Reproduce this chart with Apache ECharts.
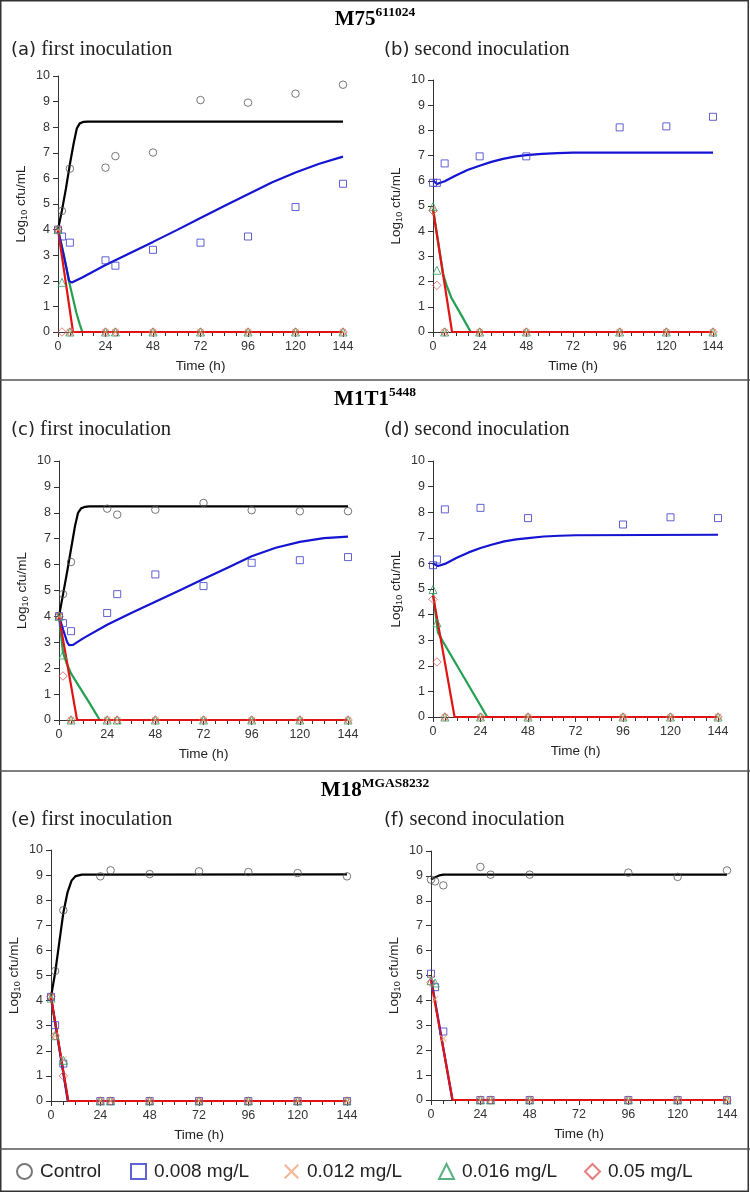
<!DOCTYPE html>
<html><head><meta charset="utf-8">
<script src="https://cdn.jsdelivr.net/npm/echarts@6/dist/echarts.min.js"></script>
<style>html,body{margin:0;padding:0;background:#fff}#c{width:750px;height:1192px}</style>
</head><body><div id="c"></div>
<script>
// ---------- time points ----------
var tA = [0, 2, 6, 24, 29, 48, 72, 96, 120, 144];
var tB = [0, 2, 6, 24, 48, 96, 120, 144];
var tF = [0, 2, 6, 24, 29, 48, 96, 120, 144];
var xTicks = [0, 24, 48, 72, 96, 120, 144];
var yTicks = [0, 1, 2, 3, 4, 5, 6, 7, 8, 9, 10];

// ---------- panel (a) ----------
var ctrlA  = [4.0, 4.73, 6.38, 6.42, 6.87, 7.01, 9.06, 8.96, 9.31, 9.66];
var sq008A = [4.0, 3.73, 3.49, 2.80, 2.59, 3.21, 3.49, 3.73, 4.88, 5.79];
var x012A  = [4.0, null, 0, 0, 0, 0, 0, 0, 0, 0];
var tri016A= [4.0, 1.94, 0, 0, 0, 0, 0, 0, 0, 0];
var dia05A = [4.0, 0, 0, 0, 0, 0, 0, 0, 0, 0];
var fitCtrlA = [[0,4.0],[2,4.75],[4,5.6],[6,6.55],[8,7.4],[9.5,7.95],[11,8.15],[13,8.21],[15,8.22],[144,8.22]];
var fitBlueA = [[0,4.0],[2,3.3],[4,2.6],[5.6,2.0],[7,1.93],[8,1.95],[12,2.12],[24,2.62],[36,3.07],[48,3.52],[60,3.98],[72,4.45],[84,4.92],[96,5.38],[108,5.84],[120,6.23],[132,6.57],[144,6.85]];
var fitRedA  = [[0,4.0],[7.6,0],[144,0]];
var fitGreenA= [[0,4.0],[3,3.0],[5.5,2.0],[7,1.5],[9.3,0.74],[11,0.3],[12.3,0],[144,0]];

// ---------- panel (b) ----------
var sq008B = [5.92, 5.92, 6.69, 6.97, 6.97, 8.12, 8.16, 8.54];
var x012B  = [null, null, 0, 0, 0, 0, 0, 0];
var tri016B= [4.97, 2.45, 0, 0, 0, 0, 0, 0];
var dia05B = [4.81, 1.85, 0, 0, 0, 0, 0, 0];
var fitBlueB = [[0,6.02],[2,5.87],[6,5.98],[12,6.22],[18,6.44],[24,6.6],[30,6.75],[36,6.87],[42,6.96],[48,7.02],[56,7.07],[64,7.1],[72,7.12],[144,7.12]];
var fitRedB  = [[0,4.85],[9.8,0],[144,0]];
var fitGreenB= [[0,4.9],[5.2,2.3],[7,1.85],[9.5,1.35],[14.5,0.68],[19.4,0],[144,0]];

// ---------- panel (c) ----------
var ctrlC  = [4.01, 4.86, 6.1, 8.16, 7.93, 8.12, 8.38, 8.10, 8.06, 8.06];
var sq008C = [4.01, 3.74, 3.43, 4.13, 4.86, 5.62, 5.17, 6.07, 6.17, 6.29];
var x012C  = [4.0, null, 0, 0, 0, 0, 0, 0, 0, 0];
var tri016C= [4.0, 2.51, 0, 0, 0, 0, 0, 0, 0, 0];
var dia05C = [4.0, 1.70, 0, 0, 0, 0, 0, 0, 0, 0];
var fitCtrlC = [[0,4.0],[2,4.85],[4,5.7],[6,6.6],[8,7.5],[9.5,8.0],[11,8.17],[13,8.23],[15,8.25],[144,8.25]];
var fitBlueC = [[0,4.0],[2,3.5],[4,3.02],[5,2.89],[7,2.9],[12,3.15],[24,3.68],[36,4.13],[48,4.57],[60,5.0],[72,5.44],[84,5.88],[96,6.32],[108,6.65],[120,6.88],[132,7.02],[144,7.08]];
var fitRedC  = [[0,4.0],[9,0],[144,0]];
var fitGreenC= [[0,4.0],[2,2.6],[4,2.15],[6,1.8],[10,1.3],[15,0.68],[20.3,0],[144,0]];

// ---------- panel (d) ----------
var sq008D = [5.93, 6.15, 8.11, 8.17, 7.77, 7.52, 7.80, 7.77];
var x012D  = [null, null, 0, 0, 0, 0, 0, 0];
var tri016D= [4.98, 3.68, 0, 0, 0, 0, 0, 0];
var dia05D = [4.6, 2.15, 0, 0, 0, 0, 0, 0];
var fitBlueD = [[0,6.0],[2.5,5.9],[6,5.98],[12,6.22],[18,6.43],[24,6.6],[30,6.74],[36,6.86],[42,6.94],[48,6.99],[56,7.05],[64,7.08],[72,7.1],[144,7.12]];
var fitRedD  = [[0,4.75],[10.9,0],[144,0]];
var fitGreenD= [[0,4.85],[2.5,3.3],[5,2.95],[27.4,0],[144,0]];

// ---------- panel (e) ----------
var ctrlE  = [4.15, 5.18, 7.60, 8.95, 9.19, 9.04, 9.15, 9.12, 9.08, 8.95];
var sq008E = [4.15, 3.02, 1.49, 0, 0, 0, 0, 0, 0, 0];
var x012E  = [4.15, 2.6, 1.65, 0, 0, 0, 0, 0, 0, 0];
var tri016E= [4.1, 2.6, 1.62, 0, 0, 0, 0, 0, 0, 0];
var dia05E = [4.15, 2.6, 1.0, 0, 0, 0, 0, 0, 0, 0];
var fitCtrlE = [[0,4.15],[2,5.1],[4,6.3],[6,7.5],[8,8.3],[10,8.78],[12,8.96],[15,9.02],[144,9.03]];
var fitBlueE = [[0,4.15],[8.2,0],[144,0]];
var fitGreenE= [[0,4.1],[8.3,0],[144,0]];
var fitRedE  = [[0,4.15],[8.4,0],[144,0]];

// ---------- panel (f) ----------
var ctrlF  = [8.85, 8.78, 8.62, 9.36, 9.05, 9.05, 9.13, 8.96, 9.22];
var sq008F = [5.07, 4.53, 2.75, 0, 0, 0, 0, 0, 0];
var x012F  = [4.88, 4.04, 2.47, 0, 0, 0, 0, 0, 0];
var tri016F= [4.79, 4.7, null, 0, 0, 0, 0, 0, 0];
var dia05F = [4.72, null, null, 0, 0, 0, 0, 0, 0];
var fitCtrlF = [[0,8.85],[2,8.95],[4,9.02],[6,9.05],[144,9.05]];
var fitBlueF = [[0,4.9],[10.4,0],[144,0]];
var fitRedF  = [[0,4.8],[10.5,0],[144,0]];

// ---------- labels ----------
var seriesNames = ['Control', '0.008 mg/L', '0.012 mg/L', '0.016 mg/L', '0.05 mg/L'];
var strains = [['M75','611024'], ['M1T1','5448'], ['M18','MGAS8232']];
var panelLabels = [['(a)','first inoculation'], ['(b)','second inoculation'], ['(c)','first inoculation'], ['(d)','second inoculation'], ['(e)','first inoculation'], ['(f)','second inoculation']];

// ---------- layout / style ----------
var grids = [
  {left:58, top:76, width:285, height:256},
  {left:433, top:80, width:280, height:252},
  {left:59, top:461, width:289, height:259},
  {left:433, top:461, width:285, height:256},
  {left:51, top:850, width:296, height:251},
  {left:431, top:851, width:296, height:249}
];
var XPATH = 'path://M1,0L5,4L9,0L10,1L6,5L10,9L9,10L5,6L1,10L0,9L4,5L0,1Z';
var mk = [
  {symbol:'circle', size:7.5, style:{color:'rgba(255,255,255,0)', borderColor:'#555555', borderWidth:1}},
  {symbol:'rect', size:7, style:{color:'rgba(255,255,255,0)', borderColor:'#3a3ac8', borderWidth:1}},
  {symbol:XPATH, size:7, style:{color:'#f2a57c', borderWidth:0}},
  {symbol:'triangle', size:8, style:{color:'rgba(255,255,255,0)', borderColor:'#2e9e5e', borderWidth:1}},
  {symbol:'diamond', size:8.5, style:{color:'rgba(255,255,255,0)', borderColor:'#e25c5c', borderWidth:1}}
];
var lineColors = {green:'#22a050', blue:'#1414d2', red:'#e01414', black:'#000000'};

var panels = [
  {t:tA, pts:[ctrlA, sq008A, x012A, tri016A, dia05A], fits:{green:fitGreenA, blue:fitBlueA, red:fitRedA, black:fitCtrlA}},
  {t:tB, pts:[null, sq008B, x012B, tri016B, dia05B], fits:{green:fitGreenB, blue:fitBlueB, red:fitRedB}},
  {t:tA, pts:[ctrlC, sq008C, x012C, tri016C, dia05C], fits:{green:fitGreenC, blue:fitBlueC, red:fitRedC, black:fitCtrlC}},
  {t:tB, pts:[null, sq008D, x012D, tri016D, dia05D], fits:{green:fitGreenD, blue:fitBlueD, red:fitRedD}},
  {t:tA, pts:[ctrlE, sq008E, x012E, tri016E, dia05E], fits:{green:fitGreenE, blue:fitBlueE, red:fitRedE, black:fitCtrlE}},
  {t:tF, pts:[ctrlF, sq008F, x012F, tri016F, dia05F], fits:{blue:fitBlueF, red:fitRedF, black:fitCtrlF}}
];

var tickFont = {fontFamily:'Liberation Sans', fontSize:12.5, color:'#333'};
var xAxes = [], yAxes = [], series = [];
panels.forEach(function(p, i){
  xAxes.push({
    type:'value', gridIndex:i, min:xTicks[0], max:xTicks[xTicks.length-1], interval:xTicks[1]-xTicks[0],
    axisLine:{show:true, onZero:false, lineStyle:{color:'#333', width:1}},
    axisTick:{show:true, length:5, lineStyle:{color:'#333'}},
    minorTick:{show:true, splitNumber:4, length:4, lineStyle:{color:'#333'}},
    splitLine:{show:false},
    axisLabel:Object.assign({margin:8}, tickFont),
    name:'Time (h)', nameLocation:'middle', nameGap:27,
    nameTextStyle:{fontFamily:'Liberation Sans', fontSize:13.5, color:'#222'}
  });
  yAxes.push({
    type:'value', gridIndex:i, min:yTicks[0], max:yTicks[yTicks.length-1], interval:yTicks[1]-yTicks[0],
    axisLine:{show:true, lineStyle:{color:'#333', width:1}},
    axisTick:{show:true, length:5, lineStyle:{color:'#333'}},
    splitLine:{show:false},
    axisLabel:Object.assign({margin:8}, tickFont),
    name:'{a|Log}{b|10}{a| cfu/mL}', nameLocation:'middle', nameGap:29, nameRotate:90,
    nameTextStyle:{rich:{
      a:{fontFamily:'Liberation Sans', fontSize:13.5, color:'#222', lineHeight:16, verticalAlign:'middle'},
      b:{fontFamily:'Liberation Sans', fontSize:9, color:'#222', lineHeight:9, verticalAlign:'bottom'}
    }}
  });
  ['green','blue','red','black'].forEach(function(k){
    if (!p.fits[k]) return;
    series.push({type:'line', name:'fit-'+k, xAxisIndex:i, yAxisIndex:i, data:p.fits[k],
      symbol:'none', showSymbol:false, lineStyle:{color:lineColors[k], width:2.2}, itemStyle:{color:lineColors[k]},
      z:2, silent:true, animation:false, clip:false});
  });
  p.pts.forEach(function(vals, s){
    if (!vals) return;
    var data = [];
    vals.forEach(function(v, j){ if (v !== null) data.push([p.t[j], v]); });
    series.push({type:'scatter', name:seriesNames[s], xAxisIndex:i, yAxisIndex:i, data:data,
      symbol:mk[s].symbol, symbolSize:mk[s].size, itemStyle:mk[s].style, z:3+s, animation:false, clip:false});
  });
});

var titles = [];
var headerTops = [6, 386, 777];
strains.forEach(function(s, i){
  titles.push({text:'{m|'+s[0]+'}{s|'+s[1]+'}', left:'center', top:headerTops[i], padding:0,
    textStyle:{fontWeight:'bold', rich:{
      m:{fontFamily:'Liberation Serif', fontWeight:'bold', fontSize:21, lineHeight:24, verticalAlign:'bottom', color:'#000'},
      s:{fontFamily:'Liberation Serif', fontWeight:'bold', fontSize:13.5, lineHeight:14, verticalAlign:'top', color:'#000'}
    }}});
});
var subPos = [[11,38],[384,38],[11,418],[384,418],[11,808],[384,808]];
panelLabels.forEach(function(l, i){
  titles.push({text:'{p|'+l[0]+'} {t|'+l[1]+'}', left:subPos[i][0], top:subPos[i][1], padding:0,
    textStyle:{fontWeight:'normal', fontFamily:'Liberation Serif', fontSize:20.6, rich:{
      p:{fontFamily:'DejaVu Sans', fontWeight:'normal', fontSize:18, color:'#222', lineHeight:24},
      t:{fontFamily:'Liberation Serif', fontWeight:'normal', fontSize:20.6, color:'#222', lineHeight:24}
    }}});
});

var legendLefts = [16, 130, 284, 438, 584];
var legendIcons = ['circle','rect',XPATH,'triangle','diamond'];
var legendStyles = [
  {color:'rgba(255,255,255,0)', borderColor:'#555555', borderWidth:2},
  {color:'rgba(255,255,255,0)', borderColor:'#3a3ac8', borderWidth:2},
  {color:'#f2a57c', borderWidth:0},
  {color:'rgba(255,255,255,0)', borderColor:'#2e9e5e', borderWidth:2},
  {color:'rgba(255,255,255,0)', borderColor:'#e25c5c', borderWidth:2}
];
var legends = seriesNames.map(function(n, i){
  return {data:[{name:n, icon:legendIcons[i], itemStyle:legendStyles[i]}], left:legendLefts[i], top:1162, padding:0,
    itemWidth:15, itemHeight:15, selectedMode:false,
    textStyle:{fontFamily:'Liberation Sans', fontSize:19, color:'#222', padding:[0,0,0,3]}};
});

var chart = echarts.init(document.getElementById('c'), null, {renderer:'canvas'});
chart.setOption({
  backgroundColor:'#fff',
  animation:false,
  title:titles,
  legend:legends,
  grid:grids.map(function(g){ return Object.assign({containLabel:false}, g); }),
  xAxis:xAxes,
  yAxis:yAxes,
  series:series,
  graphic:[
    {type:'rect', shape:{x:0.75, y:0.75, width:747.5, height:1190.5}, style:{fill:'none', stroke:'#333', lineWidth:1.5}, silent:true},
    {type:'line', shape:{x1:0, y1:380, x2:750, y2:380}, style:{stroke:'#555', lineWidth:1.5}, silent:true},
    {type:'line', shape:{x1:0, y1:771, x2:750, y2:771}, style:{stroke:'#555', lineWidth:1.5}, silent:true},
    {type:'line', shape:{x1:0, y1:1149, x2:750, y2:1149}, style:{stroke:'#555', lineWidth:1.5}, silent:true}
  ]
});
</script></body></html>
